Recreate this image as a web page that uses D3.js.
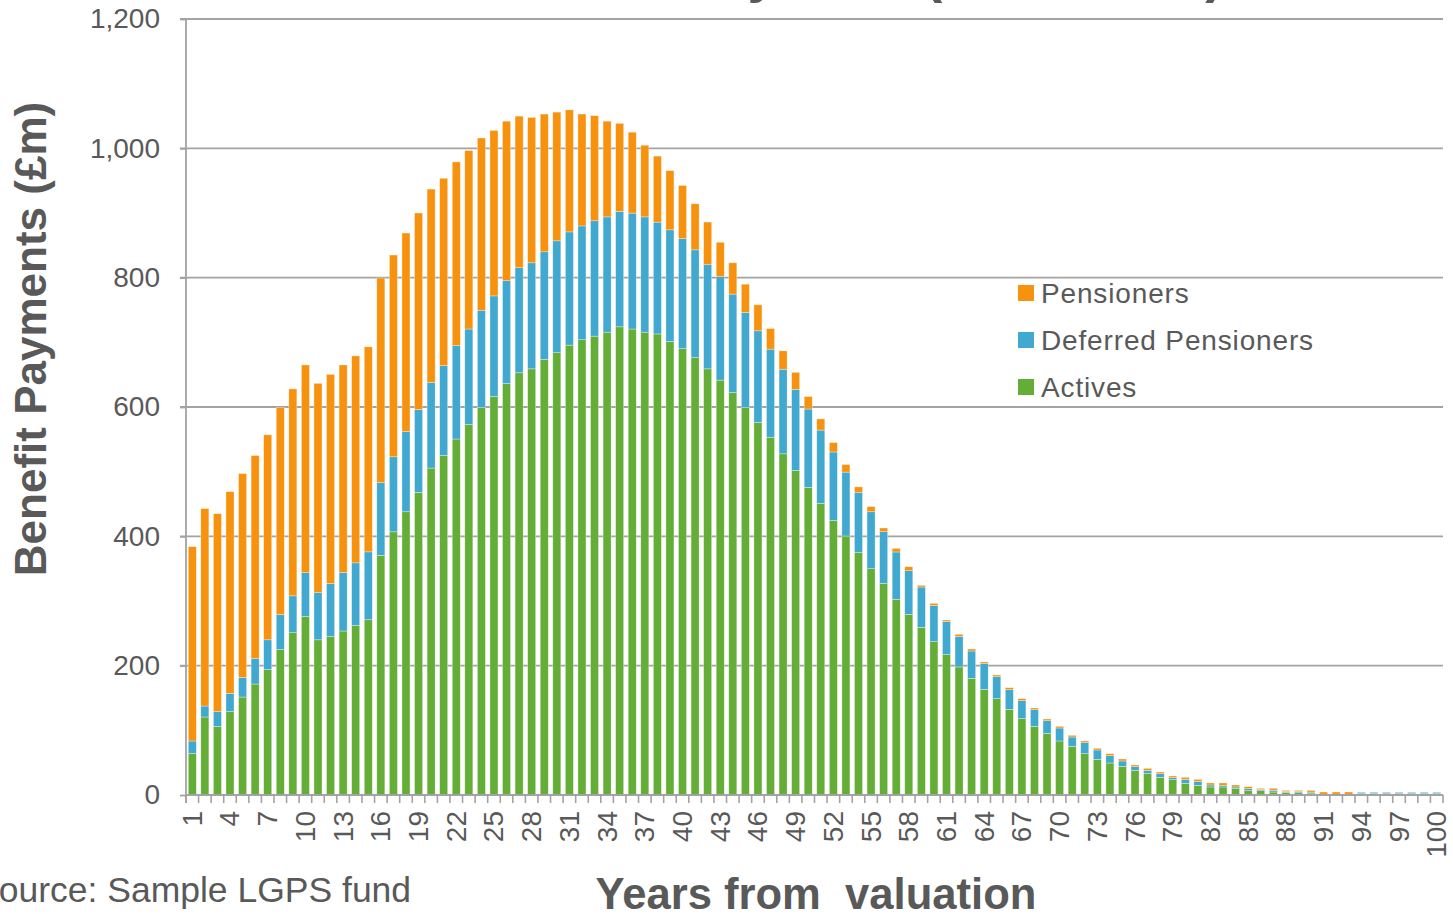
<!DOCTYPE html>
<html>
<head>
<meta charset="utf-8">
<script src="https://cdn.jsdelivr.net/npm/d3@7"></script>
<style>
  html, body { margin: 0; padding: 0; background: #ffffff; }
  svg { display: block; font-family: "Liberation Sans", Arial, sans-serif; }
</style>
</head>
<body>
<svg id="chart" width="1453" height="914"></svg>
<script>
// ---- data ----
const years = d3.range(1, 101);
const seriesNames = ["Actives", "Deferred Pensioners", "Pensioners"];
const actives = [
  64, 120.6, 106, 129, 151.5, 171.6, 194, 225, 251, 276,
  240, 245, 253.6, 262, 271, 370.6, 407, 438, 468, 505.6,
  525, 550.5, 573, 599, 616.2, 636.3, 652.9, 659, 673.6, 684,
  695.7, 704, 709.6, 715.8, 724, 720.6, 715.8, 713, 701.3, 690.2,
  676.5, 659, 641.6, 622.4, 599, 576, 553.3, 527.6, 502, 475.8,
  450.9, 424.6, 400.5, 374.8, 350, 327.3, 302.6, 279.4, 259.3, 237.1,
  217, 198, 180.4, 163.4, 149, 132.5, 118, 106.2, 95.4, 83.5,
  75.3, 63.9, 55.2, 49.5, 44.3, 38.1, 33, 27.3, 23.7, 18,
  14.9, 12.4, 12.4, 9.8, 6.7, 6.7, 4.6, 4, 3.5, 3,
  0.6, 0.6, 0.6, 2, 2, 2, 2, 2, 2, 2
];
const deferred = [
  19.5, 17, 23, 28, 30.5, 39.4, 46, 54, 57, 68,
  73, 82, 90.4, 97, 105, 112.4, 116, 124, 128, 132.4,
  139, 144.5, 147.6, 150.7, 155.6, 159, 162.5, 164, 166.4, 173,
  175.1, 176, 178.4, 178.2, 178.5, 179.2, 178.2, 172.9, 172.7, 170.2,
  166.5, 161, 159.9, 152.2, 147.3, 141.8, 136.2, 130.8, 125.3, 121.1,
  113.4, 105.8, 98.8, 93.4, 88, 79.9, 73.2, 67.5, 62.3, 56.2,
  51.6, 47.4, 42.3, 39.7, 34, 30.4, 27.9, 25.7, 19.5, 20.1,
  14.4, 17, 14.4, 11.3, 8.3, 5.7, 5.1, 5.7, 3.1, 6.2,
  6.2, 3.1, 2.6, 2.6, 3.1, 1.8, 2.7, 1.5, 2, 1.5,
  0.6, 0.6, 0.6, 2.3, 2.3, 2.3, 2.3, 2.3, 2.3, 2.3
];
const pensioners = [
  300.5, 305.4, 306, 312, 315, 314, 317, 320.5, 320, 321,
  323.6, 323.5, 321, 320, 317, 316.5, 312, 307, 304, 299,
  289.7, 284, 276, 266.3, 255.9, 246.7, 234.4, 224.8, 213, 199,
  188.7, 173, 162.5, 148, 136.2, 125.2, 110.8, 102.1, 91.5, 82.2,
  71.2, 66, 53.3, 48.4, 43.6, 40.2, 31.9, 28.4, 26.2, 19.3,
  17.3, 14.6, 11.7, 8.3, 8, 5.7, 5.6, 6.1, 2.6, 3.1,
  2, 3.1, 3.1, 2.6, 2.6, 3.1, 3.1, 2.6, 2.6, 2.6,
  2.6, 2.6, 2.6, 3.1, 3.1, 2.6, 3.1, 2.6, 2.6, 3.1,
  3.1, 3.1, 3.6, 3.1, 3.1, 1.8, 3, 1.7, 1.7, 2.7,
  3.4, 3.4, 3.4, 0.3, 0.3, 0.3, 0.3, 0.3, 0.3, 0.3
];
const yTicks = [0, 200, 400, 600, 800, 1000, 1200];
const xTickLabels = years.filter(v => (v - 1) % 3 === 0);
const legendOrder = ["Pensioners", "Deferred Pensioners", "Actives"];
const colors = { "Actives": "#64ae38", "Deferred Pensioners": "#41a8cf", "Pensioners": "#f7920f" };

// ---- layout ----
const svg = d3.select("#chart");
const plotLeft = 186, plotRight = 1443, plotTop = 19, plotBottom = 795;
const textColor = "#595959";
const gridColor = "#a3a3a3";

const table = years.map((yr, i) => ({
  year: yr,
  "Actives": actives[i],
  "Deferred Pensioners": deferred[i],
  "Pensioners": pensioners[i]
}));
const stacked = d3.stack().keys(seriesNames)(table);

const x = d3.scaleBand().domain(years).range([plotLeft, plotRight]).paddingInner(0.36).paddingOuter(0.18);
const y = d3.scaleLinear().domain([0, 1200]).range([plotBottom, plotTop]);

// title (mostly above the visible area, as in the reference)
svg.append("text")
  .attr("x", 222).attr("y", -9)
  .attr("font-size", 55).attr("font-weight", "bold")
  .attr("fill", textColor)
  .text("Benefit Cashflows by Year (real terms)");

// gridlines
svg.append("g").selectAll("line").data(yTicks.filter(d => d > 0)).join("line")
  .attr("x1", plotLeft - 6).attr("x2", plotRight)
  .attr("y1", d => y(d)).attr("y2", d => y(d))
  .attr("stroke", gridColor).attr("stroke-width", 1.8);

// bars
const layers = svg.append("g").selectAll("g").data(stacked).join("g")
  .attr("fill", d => colors[d.key]);
layers.selectAll("rect").data(d => d).join("rect")
  .attr("x", d => x(d.data.year))
  .attr("width", x.bandwidth())
  .attr("y", d => y(d[1]))
  .attr("height", d => Math.max(0, y(d[0]) - y(d[1])))
  .attr("stroke", "rgba(255,255,255,0.55)")
  .attr("stroke-width", 0.6);

// y axis
const yAxis = d3.axisLeft(y).tickValues(yTicks).tickSize(6).tickPadding(20)
  .tickFormat(d3.format(","));
const gy = svg.append("g").attr("transform", `translate(${plotLeft},0)`).call(yAxis);
gy.select(".domain").attr("stroke", gridColor).attr("stroke-width", 1.8)
  .attr("d", `M-6,${plotTop}H0V${plotBottom + 8}`);
gy.selectAll(".tick line").attr("stroke", gridColor).attr("stroke-width", 1.8);
gy.selectAll(".tick text").attr("fill", textColor).attr("font-size", 28)
  .attr("font-family", "Liberation Sans, Arial, sans-serif");

// x axis: tick marks at category boundaries
const step = x.step();
const boundaries = d3.range(0, years.length + 1).map(i => plotLeft + i * step);
svg.append("line").attr("x1", plotLeft).attr("x2", plotRight).attr("y1", plotBottom).attr("y2", plotBottom)
  .attr("stroke", gridColor).attr("stroke-width", 2);
svg.append("g").selectAll("line").data(boundaries).join("line")
  .attr("x1", d => d).attr("x2", d => d)
  .attr("y1", plotBottom).attr("y2", plotBottom + 8)
  .attr("stroke", gridColor).attr("stroke-width", 1.6);

// x tick labels (rotated)
svg.append("g").selectAll("text").data(xTickLabels).join("text")
  .attr("transform", d => `translate(${x(d) + x.bandwidth() / 2},${plotBottom + 16}) rotate(-90)`)
  .attr("text-anchor", "end")
  .attr("dominant-baseline", "central")
  .attr("font-size", 28)
  .attr("fill", textColor)
  .text(d => d);

// axis titles
svg.append("text")
  .attr("transform", `translate(46,339) rotate(-90)`)
  .attr("text-anchor", "middle")
  .attr("font-size", 44).attr("font-weight", "bold")
  .attr("fill", textColor)
  .text("Benefit Payments (£m)");

svg.append("text")
  .attr("x", 816).attr("y", 909)
  .attr("text-anchor", "middle")
  .attr("font-size", 43.6).attr("font-weight", "bold")
  .attr("fill", textColor)
  .style("white-space", "pre")
  .text("Years from  valuation");

// source note
svg.append("text")
  .attr("x", -25).attr("y", 902)
  .attr("font-size", 35.5)
  .attr("fill", textColor)
  .text("Source: Sample LGPS fund");

// legend
const legend = svg.append("g").attr("transform", "translate(1018,293)");
const rows = legend.selectAll("g").data(legendOrder).join("g")
  .attr("transform", (d, i) => `translate(0,${i * 47})`);
rows.append("rect").attr("x", 0).attr("y", -8).attr("width", 16).attr("height", 16)
  .attr("fill", d => colors[d]);
rows.append("text").attr("x", 23).attr("y", 0)
  .attr("dominant-baseline", "central")
  .attr("font-size", 28).attr("letter-spacing", 0.85)
  .attr("fill", textColor)
  .text(d => d);
</script>
</body>
</html>
